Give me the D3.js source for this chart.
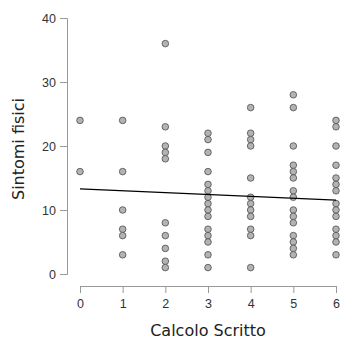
<!DOCTYPE html>
<html>
<head>
<meta charset="utf-8">
<script src="https://cdn.jsdelivr.net/npm/d3@7"></script>
<style>
  body { margin: 0; background: #fff; }
  svg { font-family: "DejaVu Sans", sans-serif; }
</style>
</head>
<body>
<script>
// Calcolo Scritto score -> Sintomi fisici values
var calcolo = [0, 1, 2, 3, 4, 5, 6];
var sintomi = [
  [24, 16],
  [24, 16, 10, 7, 6, 3],
  [36, 23, 20, 19, 18, 8, 6, 4, 2, 1],
  [22, 21, 19, 16, 14, 13, 12, 11, 10, 9, 7, 6, 5, 3, 1],
  [26, 22, 21, 20, 15, 12, 11, 10, 9, 7, 6, 1],
  [28, 26, 20, 17, 16, 15, 13, 12, 10, 9, 8, 6, 5, 4, 3],
  [24, 23, 20, 17, 15, 14, 13, 11, 10, 9, 7, 6, 5, 3]
];
var fitX = [0, 6];
var fitY = [13.3, 11.55];
var xTicks = [0, 1, 2, 3, 4, 5, 6];
var yTicks = [0, 10, 20, 30, 40];

var width = 342,
    height = 343;

var svg = d3.select("body").append("svg")
    .attr("width", width)
    .attr("height", height);

var x = d3.scaleLinear().domain([0, 6]).range([80, 336]);
var y = d3.scaleLinear().domain([0, 40]).range([274, 18]);

var points = [];
calcolo.forEach(function(c, i) {
  sintomi[i].forEach(function(v) { points.push([c, v]); });
});

// axes
var xAxis = svg.append("g")
    .attr("transform", "translate(0,286)")
    .call(d3.axisBottom(x).tickValues(xTicks).tickSize(7).tickPadding(6).tickFormat(d3.format("d")));
var yAxis = svg.append("g")
    .attr("transform", "translate(67,0)")
    .call(d3.axisLeft(y).tickValues(yTicks).tickSize(7).tickPadding(4).tickFormat(d3.format("d")));

[xAxis, yAxis].forEach(function(a) {
  a.select(".domain").attr("stroke", "#999").attr("stroke-width", 1);
  a.selectAll(".tick line").attr("stroke", "#999");
  a.selectAll(".tick text").attr("fill", "#333").style("font-size", "12.5px");
});

svg.append("text")
    .attr("x", 208)
    .attr("y", 336)
    .attr("text-anchor", "middle")
    .style("font-size", "16px")
    .attr("fill", "#222")
    .text("Calcolo Scritto");

svg.append("text")
    .attr("transform", "translate(24,149) rotate(-90)")
    .attr("text-anchor", "middle")
    .style("font-size", "16px")
    .attr("fill", "#222")
    .text("Sintomi fisici");

// points
svg.selectAll(".pt")
    .data(points)
    .enter()
    .append("circle")
    .attr("class", "pt")
    .attr("cx", function(d) { return x(d[0]); })
    .attr("cy", function(d) { return y(d[1]); })
    .attr("r", 3.3)
    .attr("fill", "#b3b3b3")
    .attr("stroke", "#4d4d4d")
    .attr("stroke-width", 0.8);

// fitted line
svg.append("line")
    .attr("x1", x(fitX[0]))
    .attr("y1", y(fitY[0]))
    .attr("x2", x(fitX[1]))
    .attr("y2", y(fitY[1]))
    .attr("stroke", "#000")
    .attr("stroke-width", 1.3);
</script>
</body>
</html>
